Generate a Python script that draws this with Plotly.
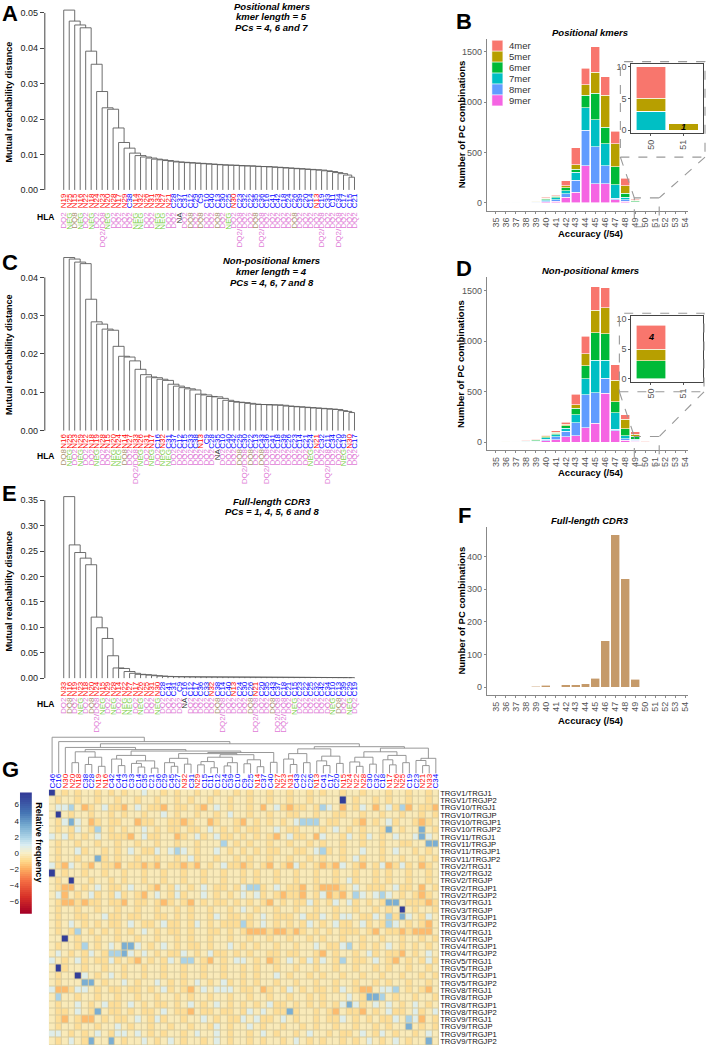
import numpy as np
import plotly.graph_objects as go

W, H = 709, 1054

# ---------------- data ----------------
A_LEAVES = ["N19","N25","N15","N16","N22","N18","N24","N23","N20","N28","N17","N29","C38","N14","N32","N26","N31","N33","N27","N21",
            "C28","C37","C31","C12","C29","C9","C10","C40","C13","C30","C25","N30","C23","C32","C22","C35","C36","C16","C41","C42",
            "C18","C24","C26","C39","C20","C14","N13","C19","C33","C11","C34","C17","C15","C21"]
A_HLA = ["DQ2","NEG","DQ8","NEG","DQ2","NEG","DQ2","DQ2/DQ8","NEG","DQ2","DQ2","DQ2","DQ2","NEG","NEG","DQ2","DQ2","NEG","NEG","DQ2",
         "DQ2","NA","DQ2","DQ8","DQ2","DQ8","DQ2","DQ2","DQ8","DQ2","NEG","DQ2","DQ2/DQ8","DQ2","DQ2","DQ8","DQ2/DQ8","DQ2","DQ2","DQ2",
         "DQ2","DQ2","DQ8","DQ2","DQ2","DQ2","DQ2","DQ2/DQ8","DQ2","DQ2","DQ2/DQ8","DQ2","DQ2","DQ2"]
A_GAPS = [0.0508,0.0477,0.0466,0.0458,0.0392,0.0355,0.0278,0.0232,0.0228,0.0175,0.0134,0.0118,0.0104,0.0097,0.0093,0.0090,0.0087,
          0.0085,0.0083,0.0081,0.0079,0.0078,0.0077,0.0076,0.0075,0.0074,0.0073,0.0072,0.0071,0.0070,0.0070,0.0069,0.0068,0.0068,
          0.0067,0.0066,0.0066,0.0065,0.0064,0.0063,0.0062,0.0061,0.0060,0.0059,0.0058,0.0057,0.0056,0.0054,0.0052,0.0049,0.0046,
          0.0042,0.0036]

C_LEAVES = ["N16","N25","N23","N29","N22","N18","N19","N28","N15","N20","N24","N14","N27","N33","N26","N31","N17","C16","N32","C31",
            "C37","C12","C15","C33","C38","N13","C9","C28","C35","C10","C40","C42","C29","C30","C22","C13","C43","C36","C41","C18",
            "C39","C26","C23","C14","C21","C24","N21","C32","C11","C34","C20","C19","N30","C17"]
C_HLA = ["DQ8","NEG","DQ2","NEG","DQ2","DQ2","NEG","DQ2","DQ2","NEG","NEG","DQ8","DQ2","DQ2/DQ8","NEG","DQ2","NEG","DQ2","NEG","NEG",
         "DQ2","DQ2","DQ2","DQ2","DQ2","DQ2","DQ2","DQ2","NA","DQ2","DQ2","DQ2","DQ8","DQ2/DQ8","DQ8","DQ2","DQ8","DQ2/DQ8","DQ2","DQ2",
         "DQ2","DQ2","DQ2","DQ2","DQ2","NEG","DQ2","DQ2","DQ2/DQ8","DQ2","DQ2","NEG","DQ2","DQ2"]
C_GAPS = [0.0452,0.0448,0.0440,0.0436,0.0343,0.0284,0.0278,0.0265,0.0262,0.0220,0.0194,0.0192,0.0182,0.0160,0.0146,0.0140,0.0138,
          0.0134,0.0131,0.0121,0.0116,0.0112,0.0109,0.0106,0.0095,0.0093,0.0089,0.0088,0.0084,0.0079,0.0076,0.0074,0.0073,0.0071,
          0.0069,0.0068,0.0068,0.0067,0.0067,0.0066,0.0064,0.0063,0.0062,0.0061,0.0060,0.0059,0.0058,0.0057,0.0056,0.0055,0.0052,
          0.0050,0.0047]

E_LEAVES = ["N33","N16","N19","N23","N18","N20","N24","N15","N29","N28","N14","N22","N27","N17","N26","N25","N31","N30","C28","C41",
            "C31","C9","C16","C12","C17","C36","C33","N32","C38","C14","C40","N13","C24","C30","C26","N21","C20","C35","C43","C37",
            "C18","C21","C15","C23","C22","C25","C32","C42","C34","C10","C13","C39","C29","C19"]
E_HLA = ["DQ2","DQ8","DQ2","NEG","DQ2","DQ8","DQ2/DQ8","NEG","DQ2","NEG","DQ2","NEG","NEG","DQ2","NEG","DQ2","DQ2","NEG","DQ2","DQ2",
         "DQ2","DQ2","NA","DQ2","DQ2","DQ2","DQ2","DQ2","DQ8","DQ2/DQ8","DQ2","DQ2","DQ2","DQ2","DQ8","DQ2/DQ8","DQ2","DQ2","DQ8","DQ2/DQ8",
         "DQ2/DQ8","DQ2","NEG","DQ2","DQ2","DQ2","DQ2","DQ2","DQ2","NEG","DQ8","DQ2","NEG","DQ2"]
E_GAPS = [0.357,0.262,0.247,0.236,0.223,0.120,0.099,0.078,0.044,0.020,0.019,0.013,0.0095,0.0075,0.0068,0.0060,0.0048,0.0040,0.0034,
          0.0030,0.0028,0.0027,0.0026,0.0025,0.0024,0.0023,0.0023,0.0022,0.0022,0.0021,0.0021,0.0020,0.0020,0.0019,0.0019,0.0018,
          0.0018,0.0017,0.0017,0.0016,0.0016,0.0015,0.0015,0.0014,0.0014,0.0013,0.0013,0.0012,0.0012,0.0011,0.0011,0.0010,0.0010]

ACC = list(range(35, 55))
KMERS = ["4mer", "5mer", "6mer", "7mer", "8mer", "9mer"]
KMER_COLORS = ["#F8766D", "#B79F00", "#00BA38", "#00BFC4", "#619CFF", "#F564E3"]
B_4MER = [0, 1, 1, 6, 3, 6, 10, 49, 171, 164, 253, 187, 125, 75, 7, 5, 0, 0, 0, 0]
B_5MER = [0, 3, 2, 2, 3, 6, 8, 23, 42, 105, 206, 315, 226, 76, 8, 2, 1, 0, 0, 0]
B_6MER = [0, 2, 2, 1, 3, 12, 15, 27, 33, 125, 263, 165, 180, 39, 8, 0, 0, 0, 0, 0]
B_7MER = [0, 2, 4, 1, 4, 10, 20, 32, 76, 220, 269, 219, 135, 26, 4, 3, 0, 0, 0, 0]
B_8MER = [0, 0, 1, 1, 3, 8, 12, 33, 121, 354, 371, 181, 15, 17, 3, 0, 0, 0, 0, 0]
B_9MER = [0, 0, 0, 1, 2, 11, 17, 56, 105, 368, 187, 187, 30, 13, 3, 0, 0, 0, 0, 0]
D_4MER = [0, 1, 1, 2, 3, 8, 12, 20, 106, 171, 233, 197, 152, 48, 25, 4, 0, 0, 0, 0]
D_5MER = [0, 1, 2, 2, 3, 6, 10, 15, 32, 119, 225, 258, 210, 91, 20, 2, 0, 0, 0, 0]
D_6MER = [1, 2, 3, 4, 6, 14, 18, 25, 65, 129, 268, 258, 113, 70, 25, 3, 0, 0, 0, 0]
D_7MER = [1, 2, 3, 4, 6, 13, 20, 30, 80, 161, 323, 178, 161, 30, 12, 0, 0, 0, 0, 0]
D_8MER = [1, 2, 3, 4, 6, 15, 26, 55, 129, 323, 303, 151, 14, 15, 10, 0, 0, 0, 0, 0]
D_9MER = [1, 2, 3, 4, 6, 15, 27, 55, 65, 145, 187, 484, 115, 20, 11, 0, 0, 0, 0, 0]
F_CDR3 = [0, 0, 0, 0, 3, 6, 2, 7, 8, 10, 27, 142, 466, 331, 25, 0, 0, 0, 0, 0]

G_COLS = ["C46","C16","N30","N20","N18","C38","C28","N19","N16","C42","C44","C13","C33","C14","C35","C21","C36","C29","C45","C27",
          "N32","C31","N29","C15","C11","C12","C24","C39","C10","C9","C25","N14","C37","C40","N27","N23","N31","C43","C22","C26",
          "N13","C41","C17","C20","N15","N24","N22","N28","C30","C32","C18","N17","N26","N25","C19","C23","N21","N33","C34"]
G_ROWS = ["TRGV1/TRGJ1","TRGV1/TRGJP2","TRGV10/TRGJ1","TRGV10/TRGJP","TRGV10/TRGJP1","TRGV10/TRGJP2","TRGV11/TRGJ1",
          "TRGV11/TRGJP","TRGV11/TRGJP1","TRGV11/TRGJP2","TRGV2/TRGJ1","TRGV2/TRGJ2","TRGV2/TRGJP","TRGV2/TRGJP1","TRGV2/TRGJP2",
          "TRGV3/TRGJ1","TRGV3/TRGJP","TRGV3/TRGJP1","TRGV3/TRGJP2","TRGV4/TRGJ1","TRGV4/TRGJP","TRGV4/TRGJP1","TRGV4/TRGJP2",
          "TRGV5/TRGJ1","TRGV5/TRGJP","TRGV5/TRGJP1","TRGV5/TRGJP2","TRGV8/TRGJ1","TRGV8/TRGJP","TRGV8/TRGJP1","TRGV8/TRGJP2",
          "TRGV9/TRGJ1","TRGV9/TRGJP","TRGV9/TRGJP1","TRGV9/TRGJP2"]
# cell codes: o=-1.7 y=-0.8 w=-0.25 c=0.8 b=2 m=3.3 D=7.2
G_CODE_VALUES = {"r": -3.0, "o": -1.7, "y": -0.8, "w": -0.25, "c": 0.8, "b": 2.0, "m": 3.3, "D": 7.2}
G_CELLS = [
    "Dwywywwywy wywwcwwywy wwywwywwyw ywwywwywwy wywwywwyww wywwywwyw",
    "wywwywwyww ywwywwywwy wywwywwyww ywwywwywwy wwwwDwywwy wywwywwyw",
    "wccbwoywcy yowcwyyowy ywyowcwyww ywowcyoyyw ybcwowycwo wcybowyyo",
    "wDwywwywwy wywwywwcwy wwywwywcww ywwywwyyww ywwyywwyww ywwywwywy",
    "wycmcwoywy ywwoyywwyy oywwoywwyo wywywywcbb bwyywwyowy wcywwyoyw",
    "wywycwybwy wywwcwywyy wyywcwywyw yywwcwyyww wywcwywyww ymwywwmwy",
    "cwcywywcwy yyowcyywwo ywcywcyywy wywyowcyyw ocwwycwycw ywcwwcmcw",
    "wywwywwyww ywwywwywwy wwywwwbwyw ywwywwywwy wywwywwyww ywwyywwmm",
    "wywwcywwyw ywcwyycwcb cwywwcwywy wywyywwyyw cbywywwcww ywcwwywyw",
    "wywwywwmyw ywwywwywwy wcywwywwyw ywwywwywwy wywwywcyww ywwywwywy",
    "cyocwyowyy owyyoyowyy oyowywcyyo ywyowyocyw yoyocwyowy coycywoyw",
    "Dwywwywwyw wywwywwyww ywwywwywwy wywwywwyww ywwywwywwy wywwywwyw",
    "wywDwwywwy wywwywwyww ywwywwywwy wywwywwyww ywwywcywwy wywwywwyw",
    "wyoowywcwy ywcwwyowyc wywcwyywyc bbywcwyyow yoooywcwyy ywcyywowy",
    "wcowywcywy cywyowcwyc ywwcwywywc wcywyoyyow ycoyowbcwc bcwywyoyw",
    "wyooyoyywy yowyywyoyw yowywyywyw ywyowywyyc ywycwcywyw ymmwyyyoy",
    "wywwywwyww ywwywwywwy wywwywwywc wywwywwyww ywwywwywwy wywDwywwy",
    "wywwyywwcy ywyywwyywy wywwycwyyw ywcwyyywcy ycwyccwyyc wbymcwycw",
    "wywcwywywy ywcwyywcyy wycwywyyyb ywcwywywyc wywcyywcyw ybcwywyow",
    "wywybwywyw ywywcwywyy wywwyywywy oooyooyoyw ywywyyywyo wyyoyooow",
    "wwDwywwyww ywwywwywwy wywwywwyww ywwywwywwy wywwywwyww ywwywwywy",
    "wywwybwywc wmmcwywcwy wyywywwcwy wywwywwyww cwyycbwywy wcwywywyw",
    "wcwywycwyb bmcwcwywyy cwywcyywyw ywwyywyyww yowywwywcy wyyowywcw",
    "cwywcywyyc ywyowywycw bbwyowywcc wywoywcwyc ycwybwyywc wyowywycy",
    "wDywwywwyw wywwywwyww ywwywwywwy wywwywwyww ywwywwywwy wywwywwyw",
    "wywwDcwywc wywwywwyww ywwywwywwy wywwcwywwy wywwywwyww ywwywwywy",
    "wywwwmmwyw wcwywwcwyw ywcwywcywy wywwywwyww ywwywwywwy wywwywwyw",
    "cooyccwywy ywyywywcyw yowcwcccwy ywoywycwyw yywycwyoow ccbwywyow",
    "wbwwywwyww ywwywwywwy wywwywwyww ywwywwywwy wywwwcwymm bwywwywwy",
    "wywwcwywcy ywcwywyywy wcwywcwywy wywcyywywy wywycmcywc wcwywcwyw",
    "wyywcwymwy ywywyywcwy yowyywyywy cwcwyymyww ywyowyyowy wcyywcywc",
    "wyowyoowyw yywcwycyww ywwcwywyyc wcyywcwyww ywyycwywyw yycwbcowy",
    "wywwywwyww cwywwywwyw wywwycwyww cwywwywwyw ywwywwywwy wywwmwywy",
    "ccwywywcwy ccwcwywyww ywcwwcwyww ywcwywwywc wwywyywcwy cwywwywcw",
    "wywcwymwwm wywwcwywcw ywwywcwyww ywywwywcwy wywwywywcw ywcwywwmw",
]
G_GAPS = [1.00, 0.88, 0.72, 0.30, 0.60, 0.25, 0.45, 0.20, 0.66, 0.40, 0.22, 0.50, 0.28, 0.18, 0.35, 0.15, 0.62, 0.30, 0.20,
          0.42, 0.26, 0.55, 0.24, 0.33, 0.16, 0.45, 0.21, 0.30, 0.52, 0.27, 0.38, 0.19, 0.58, 0.31, 0.82, 0.40, 0.25, 0.55,
          0.30, 0.68, 0.35, 0.22, 0.48, 0.28, 0.74, 0.32, 0.20, 0.45, 0.26, 0.60, 0.38, 0.24, 0.50, 0.30, 0.70, 0.36, 0.22, 0.42]

HLA_COLORS = {"DQ2": "#e07ad6", "DQ2/DQ8": "#e07ad6", "NEG": "#7ccf4a", "DQ8": "#a88f6c", "NA": "#333333"}
SAMPLE_COLORS = {"N": "#ff0000", "C": "#0000ff"}

# ---------------- helpers ----------------
FONT = "Liberation Sans, Arial, sans-serif"
NARROW = "Liberation Sans Narrow, Arial Narrow, Liberation Sans, sans-serif"


def fx(p):
    return p / W


def fy(p):
    return 1 - p / H


layout_axes = {}
counters = {"x": 0, "y": 0}


def new_axis(kind):
    counters[kind] += 1
    n = counters[kind]
    ref = kind if n == 1 else f"{kind}{n}"
    name = f"{kind}axis" if n == 1 else f"{kind}axis{n}"
    layout_axes[name] = {}
    return ref, name


def add_axes(xdom, ydom, xkw, ykw):
    xr, xn = new_axis("x")
    yr, yn = new_axis("y")
    layout_axes[xn].update(dict(domain=[fx(xdom[0]), fx(xdom[1])], anchor=yr, showgrid=False, zeroline=False), **xkw)
    layout_axes[yn].update(dict(domain=[fy(ydom[1]), fy(ydom[0])], anchor=xr, showgrid=False, zeroline=False), **ykw)
    return xr, yr


annotations = []
shapes = []


def ann(text, xp, yp, size=9, color="black", angle=0, xanchor="center", yanchor="middle", family=FONT):
    annotations.append(dict(text=text, x=fx(xp), y=fy(yp), xref="paper", yref="paper", showarrow=False,
                            font=dict(size=size, color=color, family=family), textangle=angle,
                            xanchor=xanchor, yanchor=yanchor))


def tree_paths(gaps, lo, hi, offset):
    if lo == hi:
        return lo + offset, 0.0, [], []
    k = lo
    for i in range(lo, hi):
        if gaps[i] > gaps[k]:
            k = i
    xl, hl, xs1, ys1 = tree_paths(gaps, lo, k, offset)
    xr, hr, xs2, ys2 = tree_paths(gaps, k + 1, hi, offset)
    h = gaps[k]
    xs = xs1 + xs2 + [xl, xl, xr, xr, None]
    ys = ys1 + ys2 + [hl, h, h, hr, None]
    return (xl + xr) / 2, h, xs, ys


fig = go.Figure()

# ---------------- dendrogram panels A, C, E ----------------
def dendro_panel(leaves, hla, gaps, ydom, zero_px, scale_px, yticks, ytickfmt, hla_top_px, titles, title_ys,
                 ylab_y, letter, letter_y, hla_label_y):
    n = len(leaves)
    spacing = (355 - 63) / (n - 1)
    xrange_ = [1 - (63 - 44) / spacing, n + (360 - 355) / spacing]
    yrange_ = [(zero_px - ydom[1]) / scale_px, (zero_px - ydom[0]) / scale_px]
    leaf_text = [f'<span style="color:{SAMPLE_COLORS[l[0]]}">{l}</span>' for l in leaves]
    xr, yr = add_axes([44, 360], ydom,
                      dict(range=xrange_, tickmode="array", tickvals=list(range(1, n + 1)), ticktext=leaf_text,
                           tickangle=-90, ticks="", showline=False,
                           tickfont=dict(size=8, family=NARROW)),
                      dict(range=yrange_, tickmode="array", tickvals=yticks,
                           ticktext=[ytickfmt.format(v) for v in yticks], ticks="outside", ticklen=4,
                           tickcolor="#444", tickfont=dict(size=9, color="#222", family=FONT), showline=False))
    _, _, xs, ys = tree_paths(gaps, 0, n - 1, 1)
    fig.add_trace(go.Scatter(x=xs, y=ys, mode="lines", line=dict(color="#5e5e5e", width=0.9),
                             xaxis=xr, yaxis=yr, showlegend=False, hoverinfo="skip"))
    shapes.append(dict(type="line", xref="paper", yref=yr, x0=fx(44), x1=fx(44), y0=yticks[0], y1=yticks[-1],
                       line=dict(color="#444", width=1)))
    # HLA row: overlay x axis carrying the HLA labels
    xr2, xn2 = new_axis("x")
    hla_text = [f'<span style="color:{HLA_COLORS[h]}">{h}</span>' for h in hla]
    layout_axes[xn2].update(dict(overlaying=xr, anchor="free", position=fy(hla_top_px), side="bottom",
                                 range=xrange_, tickmode="array", tickvals=list(range(1, n + 1)), ticktext=hla_text,
                                 tickangle=-90, ticks="", showline=False, showgrid=False, zeroline=False,
                                 tickfont=dict(size=8, family=NARROW)))
    fig.add_trace(go.Scatter(x=list(range(1, n + 1)), y=[0] * n, mode="markers", marker=dict(opacity=0, size=1),
                             xaxis=xr2, yaxis=yr, showlegend=False, hoverinfo="skip"))
    for t, ty in zip(titles, title_ys):
        ann(f"<b><i>{t}</i></b>", 272, ty, size=9.5)
    ann("<b>Mutual reachability distance</b>", 8, ylab_y, size=9, angle=-90)
    ann(f"<b>{letter}</b>", 9, letter_y, size=22)
    ann("<b>HLA</b>", 45, hla_label_y, size=8.5)


dendro_panel(A_LEAVES, A_HLA, A_GAPS, [5, 190], 189, 3560, [0, 0.01, 0.02, 0.03, 0.04, 0.05], "{:.2f}", 209,
             ["Positional kmers", "kmer length = 5", "PCs = 4, 6 and 7"], [5, 15, 26], 100, "A", 12, 216)
dendro_panel(C_LEAVES, C_HLA, C_GAPS, [255, 432], 431, 3850, [0, 0.01, 0.02, 0.03, 0.04], "{:.2f}", 447,
             ["Non-positional kmers", "kmer length = 4", "PCs = 4, 6, 7 and 8"], [260, 271, 282], 354, "C", 262, 457)
dendro_panel(E_LEAVES, E_HLA, E_GAPS, [490, 681], 680, 511.4, [0, 0.05, 0.10, 0.15, 0.20, 0.25, 0.30, 0.35], "{:.2f}",
             697, ["Full-length CDR3", "PCs = 1, 4, 5, 6 and 8"], [502, 512], 592, "E", 494, 706)

# ---------------- histogram panels B, D, F ----------------
def hist_axes(ydom, yrange_, yticks):
    return add_axes([488, 690], ydom,
                    dict(range=[34.1, 54.3], tickmode="array", tickvals=ACC, ticktext=[str(a) for a in ACC],
                         tickangle=-90, ticks="outside", ticklen=2, tickcolor="#888", showline=True,
                         linecolor="#888", linewidth=1, tickfont=dict(size=9, color="#555", family=FONT)),
                    dict(range=yrange_, tickmode="array", tickvals=yticks, ticks="outside", ticklen=2,
                         tickcolor="#888", showline=True, linecolor="#888", linewidth=1,
                         tickfont=dict(size=9, color="#555", family=FONT)))


def inset_axes(xdom, ydom):
    return add_axes(xdom, ydom,
                    dict(range=[49.4, 51.6], tickmode="array", tickvals=[50, 51], ticktext=["50", "51"],
                         tickangle=-90, ticks="outside", ticklen=2, tickcolor="#555", showline=True, mirror=True,
                         linecolor="#444", linewidth=1, tickfont=dict(size=9, color="#555", family=FONT)),
                    dict(range=[-0.5, 10.5], tickmode="array", tickvals=[0, 5, 10], ticks="outside", ticklen=2,
                         tickcolor="#555", showline=True, mirror=True, linecolor="#444", linewidth=1,
                         tickfont=dict(size=9, color="#555", family=FONT)))


def stacked(series, xr, yr, xsel=None):
    # draw bottom (9mer) first so 4mer sits on top
    for name, color, vals in reversed(list(zip(KMERS, KMER_COLORS, series))):
        xs = ACC if xsel is None else xsel
        ys = vals if xsel is None else [vals[ACC.index(a)] for a in xsel]
        fig.add_trace(go.Bar(x=xs, y=ys, name=name, marker=dict(color=color, line=dict(color="white", width=0.6)),
                             width=0.9, xaxis=xr, yaxis=yr, showlegend=False, hoverinfo="skip"))


B_SERIES = [B_4MER, B_5MER, B_6MER, B_7MER, B_8MER, B_9MER]
D_SERIES = [D_4MER, D_5MER, D_6MER, D_7MER, D_8MER, D_9MER]

xb, yb = hist_axes([37, 210], [-80, 1630], [0, 500, 1000, 1500])
stacked(B_SERIES, xb, yb)
xbi, ybi = inset_axes([633, 705], [62, 132])
stacked(B_SERIES, xbi, ybi, xsel=[50, 51])
annotations.append(dict(text=f"<b><i>{B_5MER[ACC.index(51)]}</i></b>", x=51, y=B_5MER[ACC.index(51)] / 2,
                        xref=xbi, yref=ybi, showarrow=False, font=dict(size=9, color="black", family=FONT)))

# manual legend for B
for i, (name, color) in enumerate(zip(KMERS, KMER_COLORS)):
    yc = 44 + i * 11
    shapes.append(dict(type="rect", xref="paper", yref="paper", x0=fx(493), x1=fx(504), y0=fy(yc + 5.5),
                       y1=fy(yc - 5.5), fillcolor=color, line=dict(color="white", width=0.5)))
    ann(name, 508, yc, size=9.5, color="#333", xanchor="left")

xd, yd = hist_axes([277, 451], [-80, 1630], [0, 500, 1000, 1500])
stacked(D_SERIES, xd, yd)
xdi, ydi = inset_axes([633, 705], [316, 382])
stacked(D_SERIES, xdi, ydi, xsel=[50, 51])
d50 = ACC.index(50)
d_base = D_5MER[d50] + D_6MER[d50] + D_7MER[d50] + D_8MER[d50] + D_9MER[d50]
annotations.append(dict(text=f"<b><i>{D_4MER[d50]}</i></b>", x=50, y=d_base + D_4MER[d50] / 2,
                        xref=xdi, yref=ydi, showarrow=False, font=dict(size=9, color="black", family=FONT)))

xf, yf = hist_axes([528, 697], [-24, 490], [0, 100, 200, 300, 400])
fig.add_trace(go.Bar(x=ACC, y=F_CDR3, marker=dict(color="#c59a6a", line=dict(color="white", width=0.6)), width=0.9,
                     xaxis=xf, yaxis=yf, showlegend=False, hoverinfo="skip"))

for title, ty, ay, ylab_y, letter, ly in [("Positional kmers", 31, 233, 123, "B", 20),
                                          ("Non-positional kmers", 270, 473, 364, "D", 268),
                                          ("Full-length CDR3", 521, 723, 612, "F", 516)]:
    ann(f"<b><i>{title}</i></b>", 592, ty, size=9.5)
    ann("<b>Accuracy (/54)</b>", 592, ay, size=9.5)
    ann("<b>Number of PC combinations</b>", 462, ylab_y, size=9.5, angle=-90)
    ann(f"<b>{letter}</b>", 465, ly, size=22)

dash = dict(color="#999", width=1.1, dash="dash")
for box, zoom in [((622, 60, 707, 156), (636, 197, 661, 226)), ((621, 313, 706, 392), (636, 437, 661, 466))]:
    shapes.append(dict(type="rect", xref="paper", yref="paper", x0=fx(box[0]), x1=fx(box[2]), y0=fy(box[3]),
                       y1=fy(box[1]), line=dash))
    shapes.append(dict(type="rect", xref="paper", yref="paper", x0=fx(zoom[0]), x1=fx(zoom[2]), y0=fy(zoom[3]),
                       y1=fy(zoom[1]), line=dash))
    shapes.append(dict(type="line", xref="paper", yref="paper", x0=fx(box[0]), y0=fy(box[3]), x1=fx(zoom[0]),
                       y1=fy(zoom[1]), line=dash))
    shapes.append(dict(type="line", xref="paper", yref="paper", x0=fx(box[2]), y0=fy(box[3]), x1=fx(zoom[2]),
                       y1=fy(zoom[1]), line=dash))

# ---------------- heatmap panel G ----------------
G_Z = []
for row in G_CELLS:
    codes = row.replace(" ", "")
    codes = (codes + "w" * len(G_COLS))[:len(G_COLS)]
    G_Z.append([G_CODE_VALUES[c] for c in codes])

CSCALE = [[0.0, "#a50026"], [0.133, "#d73027"], [0.267, "#f46d43"], [0.367, "#fdae61"], [0.433, "#fed98b"],
          [0.5, "#f8efc8"], [0.567, "#d9edf2"], [0.633, "#abd2e6"], [0.733, "#74a9cf"], [0.833, "#4575b4"],
          [1.0, "#313695"]]
ncol = len(G_COLS)
col_text = [f'<span style="color:{SAMPLE_COLORS[c[0]]}">{c}</span>' for c in G_COLS]
xg, yg = add_axes([48, 440], [792, 1049],
                  dict(range=[-0.5, ncol - 0.5], side="top", tickmode="array", tickvals=list(range(ncol)),
                       ticktext=col_text, tickangle=-90, ticks="", showline=False,
                       tickfont=dict(size=8, family=NARROW)),
                  dict(range=[len(G_ROWS) - 0.5, -0.5], side="right", tickmode="array",
                       tickvals=list(range(len(G_ROWS))), ticktext=G_ROWS, ticks="", showline=False,
                       tickfont=dict(size=7.6, color="#111", family=NARROW)))
shapes.append(dict(type="rect", xref=xg, yref=yg, x0=-0.5, x1=ncol - 0.5, y0=-0.5, y1=len(G_ROWS) - 0.5,
                   fillcolor="#d8cba0", line=dict(width=0), layer="below"))
fig.add_trace(go.Heatmap(z=G_Z, x=list(range(ncol)), y=list(range(len(G_ROWS))), colorscale=CSCALE,
                         zmin=-7.5, zmax=7.5, xgap=1, ygap=1, showscale=False, xaxis=xg, yaxis=yg,
                         hoverinfo="skip"))

# column dendrogram
xgd, ygd = add_axes([48, 440], [738, 776],
                    dict(range=[-0.5, ncol - 0.5], showticklabels=False, ticks="", showline=False),
                    dict(range=[0, 1.04], showticklabels=False, ticks="", showline=False))
_, _, gxs, gys = tree_paths(G_GAPS, 0, ncol - 1, 0)
fig.add_trace(go.Scatter(x=gxs, y=gys, mode="lines", line=dict(color="#8c8c8c", width=0.9), xaxis=xgd, yaxis=ygd,
                         showlegend=False, hoverinfo="skip"))

# colour key
CB_LEVELS = np.linspace(-7.5, 7.5, 61)
xcb, ycb = add_axes([19, 31], [795, 917],
                    dict(range=[-0.5, 0.5], showticklabels=False, ticks="", showline=False),
                    dict(range=[-7.5, 7.5], tickmode="array", tickvals=[-6, -4, -2, 0, 2, 4, 6], ticks="",
                         showline=False, tickfont=dict(size=8, color="#222", family=FONT)))
fig.add_trace(go.Heatmap(z=[[v] for v in CB_LEVELS], x=[0], y=list(CB_LEVELS), colorscale=CSCALE, zmin=-7.5,
                         zmax=7.5, showscale=False, xaxis=xcb, yaxis=ycb, hoverinfo="skip"))
ann("<b>Relative frequency</b>", 38, 845, size=9, angle=90)
ann("<b>G</b>", 10, 772, size=22)

fig.update_layout(
    width=W, height=H, margin=dict(l=0, r=0, t=0, b=0), paper_bgcolor="white", plot_bgcolor="white",
    barmode="stack", font=dict(family=FONT, size=9), showlegend=False,
    annotations=annotations, shapes=shapes,
    **layout_axes,
)
fig.write_html("out.html", config={"displayModeBar": False},
               post_script="document.body.style.margin='0';document.body.style.overflow='hidden';")
